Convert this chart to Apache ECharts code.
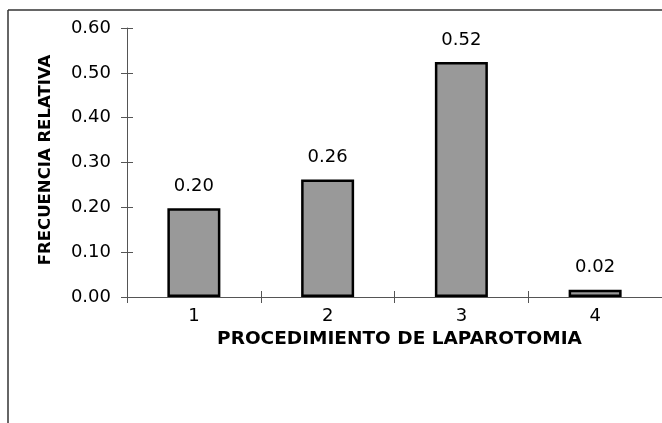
<!DOCTYPE html>
<html>
<head>
<meta charset="utf-8">
<script src="https://cdn.jsdelivr.net/npm/echarts@6/dist/echarts.min.js"></script>
<style>html,body{margin:0;padding:0;background:#fff}#c{width:662px;height:423px}</style>
</head>
<body>
<div id="c"></div>
<script>
const categories = ['1', '2', '3', '4'];
const values = [0.198, 0.262, 0.524, 0.016];
const yTicks = [0, 0.1, 0.2, 0.3, 0.4, 0.5, 0.6];

const chart = echarts.init(document.getElementById('c'), null, {renderer: 'canvas'});
const font = '"DejaVu Sans", "Liberation Sans", Arial, sans-serif';
const axisCol = '#555';
chart.setOption({
  animation: false,
  grid: {left: 127, top: 28, right: -1, bottom: 126, containLabel: false},
  graphic: [
    {type: 'line', shape: {x1: 8, y1: 10, x2: 662, y2: 10}, style: {stroke: '#333', lineWidth: 1.5}},
    {type: 'line', shape: {x1: 8, y1: 10, x2: 8, y2: 423}, style: {stroke: '#333', lineWidth: 1.5}}
  ],
  xAxis: [{
    type: 'category', data: categories, position: 'bottom',
    axisLine: {lineStyle: {color: axisCol, width: 1}},
    axisTick: {show: true, length: 6, inside: false, lineStyle: {color: axisCol}},
    axisLabel: {color: '#000', fontFamily: font, fontSize: 18, margin: 10},
    name: 'PROCEDIMIENTO DE LAPAROTOMIA', nameLocation: 'middle', nameGap: 30,
    nameTextStyle: {color: '#000', fontFamily: font, fontSize: 18.5, fontWeight: 'bold', padding: [0, 0, 0, 10]}
  }, {
    type: 'category', data: categories, position: 'bottom',
    axisLine: {show: false},
    axisTick: {show: true, length: 6, inside: true, lineStyle: {color: axisCol}},
    axisLabel: {show: false}
  }],
  yAxis: [{
    type: 'value', min: 0, max: 0.6, interval: 0.1,
    splitLine: {show: false},
    axisLine: {show: true, lineStyle: {color: axisCol, width: 1}},
    axisTick: {show: true, length: 6, inside: false, lineStyle: {color: axisCol}},
    axisLabel: {color: '#000', fontFamily: font, fontSize: 18, margin: 16,
      formatter: v => yTicks.some(t => Math.abs(t - v) < 1e-9) ? v.toFixed(2) : ''},
    name: 'FRECUENCIA RELATIVA', nameLocation: 'middle', nameGap: 73, nameRotate: 90,
    nameTextStyle: {color: '#000', fontFamily: font, fontSize: 16.5, fontWeight: 'bold', padding: [0, 0, 0, 5]}
  }, {
    type: 'value', min: 0, max: 0.6, interval: 0.1, position: 'left',
    splitLine: {show: false},
    axisLine: {show: false},
    axisTick: {show: true, length: 6, inside: true, lineStyle: {color: axisCol}},
    axisLabel: {show: false}
  }],
  series: [{
    type: 'bar', data: values, xAxisIndex: 0, yAxisIndex: 0,
    barWidth: 53,
    itemStyle: {color: '#999999', borderColor: '#000', borderWidth: 2.5},
    label: {show: true, position: 'top', distance: 13, color: '#000', fontFamily: font, fontSize: 18,
      formatter: p => p.value.toFixed(2)}
  }]
});
</script>
</body>
</html>
